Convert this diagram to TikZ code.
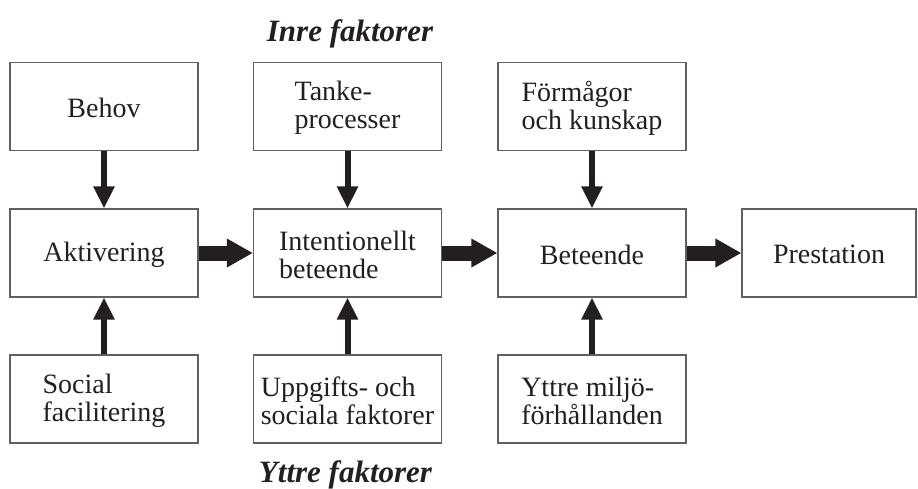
\documentclass[tikz,border=0pt]{standalone}
\usepackage{fontspec}
\setmainfont{Liberation Serif}
\usetikzlibrary{arrows.meta}
\definecolor{ink}{HTML}{231F20}
\definecolor{frame}{HTML}{5F6062}
\begin{document}
\begin{tikzpicture}[x=1pt,y=-1pt,
  box/.style={draw=frame,line width=1.2pt,minimum width=188pt,minimum height=88pt,
    inner sep=0pt,align=left,text=ink,font=\fontsize{28}{28}\selectfont},
  boxtext/.style={text=ink,inner sep=0pt,align=left,font=\fontsize{28}{28}\selectfont},
  vlink/.style={draw=ink,line width=6pt,-{Triangle[length=22pt,width=20pt]}},
  hlink/.style={draw=ink,line width=15pt,-{Triangle[length=26pt,width=27pt]}},
  titletext/.style={text=ink,anchor=base,inner sep=0pt,font=\fontsize{31}{31}\selectfont\bfseries\itshape}]
\useasboundingbox (0,0) rectangle (918,488);
% titles
\node[titletext] (inre) at (350,41) {Inre faktorer};
\node[titletext] (yttre) at (345.5,482) {Yttre faktorer};
% top row
\node[box] (behov) at (104,106.5) {};
\node[box] (tanke) at (347.5,106.5) {};
\node[box] (formagor) at (592,106.5) {};
% middle row
\node[box] (akt) at (104,253) {};
\node[box] (int) at (347.5,253) {};
\node[box] (bet) at (592,253) {};
\node[box,minimum width=174pt] (prest) at (829,253) {};
% bottom row
\node[box] (social) at (104,399) {};
\node[box] (uppg) at (347.5,399) {};
\node[box] (miljo) at (592,399) {};
% texts
\node[boxtext] (tbehov) at ([yshift=-1.5pt]behov.center) {Behov};
\node[boxtext] (ttanke) at ([yshift=-1.5pt]tanke.center) {Tanke-\\processer};
\node[boxtext] (tformagor) at ([yshift=-1.5pt]formagor.center) {Förmågor\\och kunskap};
\node[boxtext] (takt) at ([yshift=-1.5pt]akt.center) {Aktivering};
\node[boxtext] (tint) at ([yshift=-1.5pt]int.center) {Intentionellt\\beteende};
\node[boxtext] (tbet) at ([yshift=-1.5pt]bet.center) {Beteende};
\node[boxtext] (tprest) at ([yshift=-1.5pt]prest.center) {Prestation};
\node[boxtext] (tsocial) at ([yshift=-1.5pt]social.center) {Social\\facilitering};
\node[boxtext] (tuppg) at ([yshift=-1.5pt]uppg.center) {Uppgifts- och\\sociala faktorer};
\node[boxtext] (tmiljo) at ([yshift=-1.5pt]miljo.center) {Yttre miljö-\\förhållanden};
% vertical arrows
\draw[vlink] (behov.south) -- (akt.north);
\draw[vlink] (tanke.south) -- (int.north);
\draw[vlink] (formagor.south) -- (bet.north);
\draw[vlink] (social.north) -- (akt.south);
\draw[vlink] (uppg.north) -- (int.south);
\draw[vlink] (miljo.north) -- (bet.south);
% horizontal arrows
\draw[hlink] (akt.east) -- (int.west);
\draw[hlink] (int.east) -- (bet.west);
\draw[hlink] (bet.east) -- (prest.west);
\end{tikzpicture}
\end{document}
